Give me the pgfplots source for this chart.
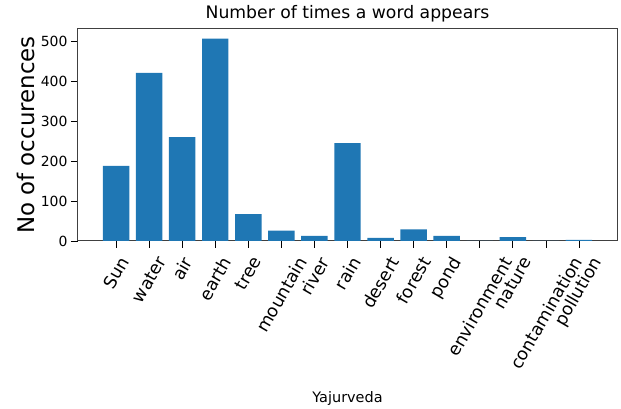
\documentclass[border=0pt]{standalone}
\usepackage{pgfplots}
\pgfplotsset{compat=1.18}
\usepackage{graphicx}
\usepackage{fontspec}
\setmainfont{DejaVu Sans}
\definecolor{barblue}{RGB}{31,119,180}
\newcommand\rl[1]{\rotatebox{60}{#1}}
\begin{document}
\begin{tikzpicture}
\begin{axis}[
    scale only axis,
    width=539bp, height=212bp,
    ybar, bar width=0.8, bar shift=0pt,
    xmin=-1.15, xmax=15.15,
    ymin=0, ymax=531,
    xtick={0,...,14},
    xticklabels={\rl{Sun},\rl{water},\rl{air},\rl{earth},\rl{tree},\rl{mountain},\rl{river},\rl{rain},\rl{desert},\rl{forest},\rl{pond},\rl{environment},\rl{nature},\rl{contamination},\rl{pollution}},
    ytick={0,100,...,500},
    tick pos=left, tick align=outside,
    major tick length=7bp,
    tick style={black, line width=0.8bp},
    axis line style={black!75, line width=1bp},
    /pgf/number format/assume math mode=true,
    xticklabel style={font=\fontsize{17.5}{20}\selectfont, anchor=north, inner sep=0pt, yshift=-7bp},
    yticklabel style={font=\fontsize{14}{16}\selectfont},
    title={Number of times a word appears},
    title style={font=\fontsize{17.3}{20}\selectfont, at={(axis description cs:0.5,1)}, anchor=base, yshift=5bp},
    xlabel={Yajurveda},
    xlabel style={font=\fontsize{14.5}{17}\selectfont, at={(axis description cs:0.5,-0.76)}, anchor=base},
    ylabel={No of occurences},
    ylabel style={font=\fontsize{23}{26}\selectfont, at={(axis description cs:-0.0965,0.5)}, anchor=center},
  ]
  \addplot[fill=barblue, draw=none]
  coordinates {(0,188) (1,421) (2,260) (3,507) (4,67) (5,26) (6,13) (7,245) (8,8) (9,29) (10,13) (11,0) (12,10) (13,0) (14,3)};
\end{axis}
\path[use as bounding box] (-78bp,-163bp) rectangle (543bp,241bp);
\end{tikzpicture}
\end{document}
